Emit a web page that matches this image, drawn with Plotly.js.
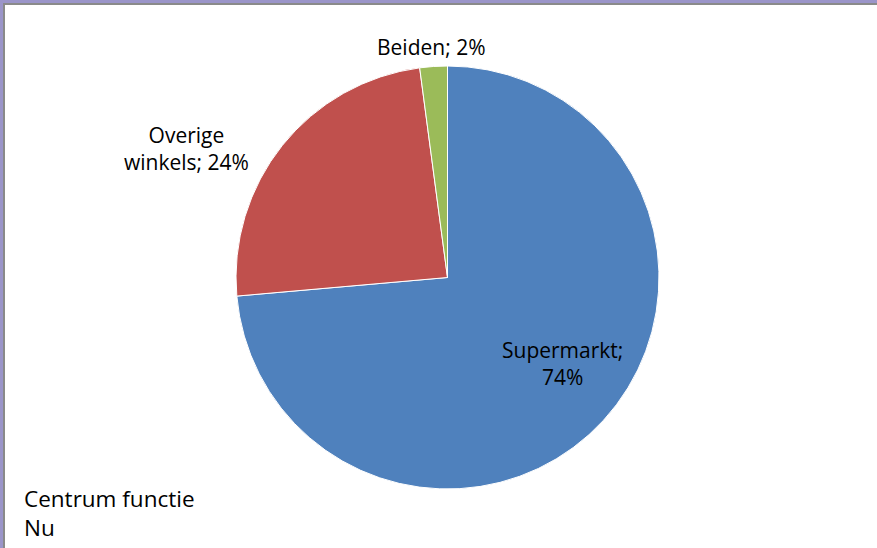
<!DOCTYPE html>
<html><head><meta charset="utf-8">
<script src="https://cdn.plot.ly/plotly-3.0.1.min.js"></script>
<style>html,body{margin:0;padding:0;background:#fff;}#chart{width:877px;height:548px;}</style>
</head><body><div id="chart"></div>
<script>
const categories = ["Supermarkt", "Overige winkels", "Beiden"];
const values = [73.6, 24.3, 2.1];
const colors = ["#4F81BD", "#C0504D", "#9BBB59"];
const labelTexts = ["Supermarkt;<br>74%", "Overige<br>winkels; 24%", "Beiden; 2%"];
const labelPos = [[562, 363], [186, 148], [431, 47]];
const W = 877, H = 548;
const font = "'Open Sans', Lato, sans-serif";

const cx = 447.5, cy = 277.5, r = 211.5;
const trace = {
  type: "pie",
  labels: categories,
  values: values,
  sort: false,
  direction: "clockwise",
  rotation: 0,
  marker: {colors: colors, line: {color: "#ffffff", width: 1}},
  textinfo: "none",
  hoverinfo: "label+percent",
  showlegend: false,
  domain: {x: [(cx - r) / W, (cx + r) / W], y: [(H - cy - r) / H, (H - cy + r) / H]}
};

const annotations = labelTexts.map((t, i) => ({
  text: t, x: labelPos[i][0] / W, y: 1 - labelPos[i][1] / H,
  xref: "paper", yref: "paper", showarrow: false, align: "center",
  xanchor: "center", yanchor: "middle",
  font: {family: font, size: 21, color: "#000"}
}));
annotations.push({
  text: "Centrum functie<br>Nu", x: 22 / W, y: 1 - 513 / H, xref: "paper", yref: "paper",
  showarrow: false, align: "left", xanchor: "left", yanchor: "middle",
  font: {family: font, size: 22.5, color: "#000"}
});

const purple = "#9B95C9", gray = "#8a8a8a";
const shapes = [
  {type: "rect", xref: "paper", yref: "paper", x0: 0, x1: 3 / W, y0: 0, y1: 1, fillcolor: purple, line: {width: 0}},
  {type: "rect", xref: "paper", yref: "paper", x0: 0, x1: 1, y0: 1 - 3 / H, y1: 1, fillcolor: purple, line: {width: 0}},
  {type: "rect", xref: "paper", yref: "paper", x0: 3 / W, x1: 5 / W, y0: 0, y1: 1 - 3 / H, fillcolor: gray, line: {width: 0}},
  {type: "rect", xref: "paper", yref: "paper", x0: 3 / W, x1: 1, y0: 1 - 5 / H, y1: 1 - 3 / H, fillcolor: gray, line: {width: 0}}
];

Plotly.newPlot("chart", [trace], {
  width: W, height: H, margin: {l: 0, r: 0, t: 0, b: 0},
  paper_bgcolor: "#ffffff", annotations: annotations, shapes: shapes
}, {displayModeBar: false, staticPlot: false});
</script></body></html>
